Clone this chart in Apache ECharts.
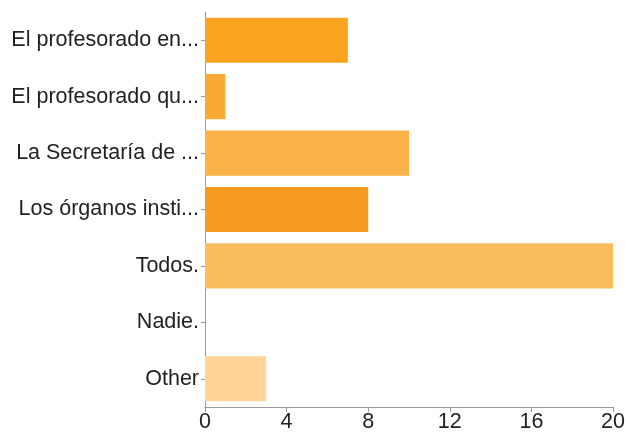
<!DOCTYPE html>
<html>
<head>
<meta charset="utf-8">
<script src="https://cdn.jsdelivr.net/npm/echarts@6/dist/echarts.min.js"></script>
<style>html,body{margin:0;padding:0;background:#fff}#c{width:625px;height:436px}</style>
</head>
<body>
<div id="c"></div>
<script>
const categories = ["El profesorado en...", "El profesorado qu...", "La Secretaría de ...", "Los órganos insti...", "Todos.", "Nadie.", "Other"];
const values = [7, 1, 10, 8, 20, 0, 3];
const barColors = ["#F9A321", "#F9AA36", "#FBB24A", "#F79A1F", "#FBBD5E", "#FBBD5E", "#FED597"];
const xTicks = [0, 4, 8, 12, 16, 20];

const chart = echarts.init(document.getElementById('c'), null, {renderer: 'canvas'});
chart.setOption({
  animation: false,
  grid: {left: 205, right: 12, top: 12, bottom: 29, containLabel: false, outerBoundsMode: 'none'},
  xAxis: {
    type: 'value', min: xTicks[0], max: xTicks[xTicks.length - 1], interval: 4,
    axisLine: {show: true, lineStyle: {color: '#999', width: 1}},
    axisTick: {show: true, length: 5, lineStyle: {color: '#999'}},
    splitLine: {show: false},
    axisLabel: {color: '#222', fontFamily: 'Liberation Sans, Arial, sans-serif', fontSize: 21.5, margin: 4}
  },
  yAxis: {
    type: 'category', inverse: true, data: categories,
    axisLine: {show: true, lineStyle: {color: '#999', width: 1}},
    axisTick: {show: true, alignWithLabel: true, length: 4, lineStyle: {color: '#999'}},
    axisLabel: {color: '#222', fontFamily: 'Liberation Sans, Arial, sans-serif', fontSize: 21.5, margin: 6}
  },
  series: [{
    type: 'bar',
    barCategoryGap: '20%',
    data: values.map((v, i) => ({value: v, itemStyle: {color: barColors[i]}}))
  }]
});
</script>
</body>
</html>
